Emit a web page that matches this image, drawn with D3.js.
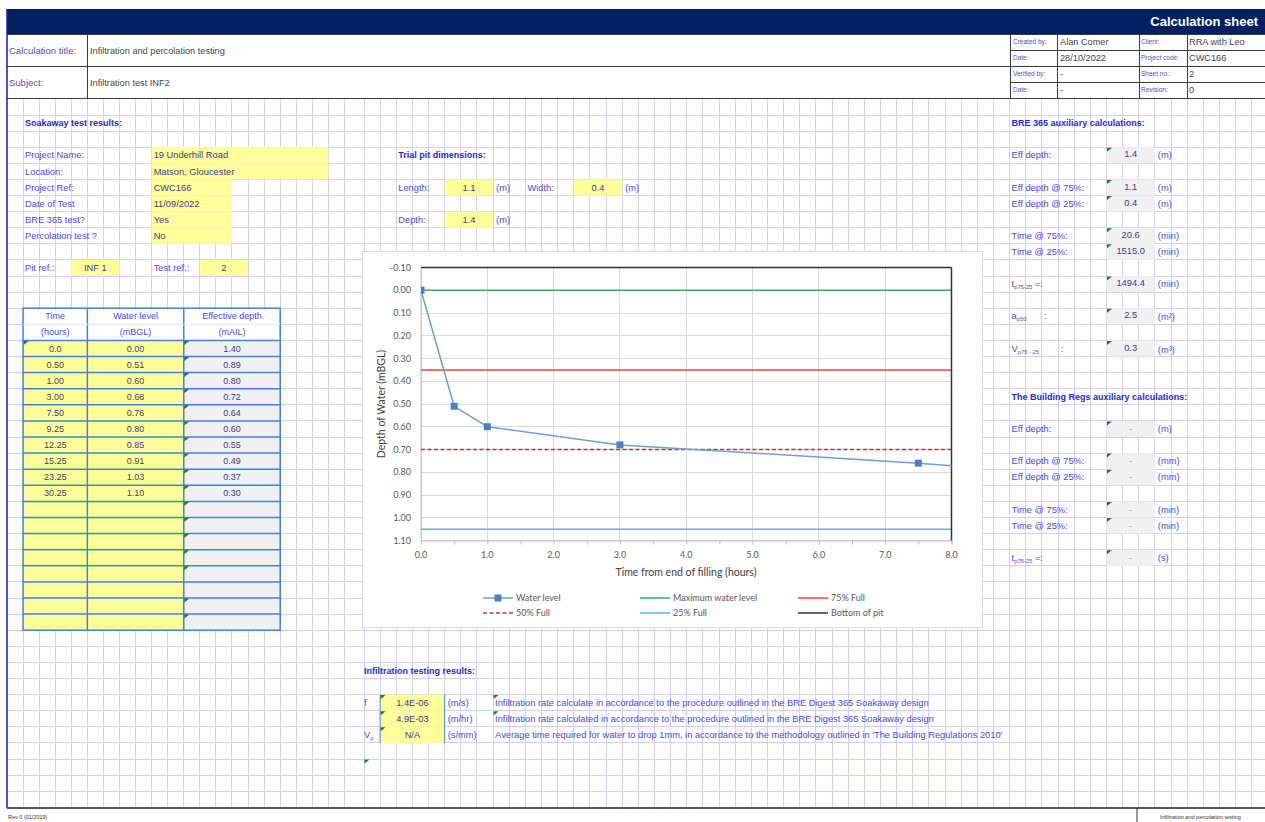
<!DOCTYPE html>
<html>
<head>
<meta charset="utf-8">
<script src="https://d3js.org/d3.v7.min.js"></script>
<style>
  body { margin: 0; background: #fff; }
  svg text { font-family: "Liberation Sans", Arial, sans-serif; }
</style>
</head>
<body>
<div id="sheet"></div>
<script>
// ---- data ----
const timeHours  = [0.0, 0.50, 1.00, 3.00, 7.50, 9.25, 12.25, 15.25, 23.25, 30.25];
const waterLevel = [0.00, 0.51, 0.60, 0.68, 0.76, 0.80, 0.85, 0.91, 1.03, 1.10];
const effDepth   = [1.40, 0.89, 0.80, 0.72, 0.64, 0.60, 0.55, 0.49, 0.37, 0.30];

// reference levels drawn as horizontal lines (mBGL)
const refNames  = ["Maximum water level", "75% Full", "50% Full", "25% Full"];
const refLevels = [0.00, 0.35, 0.70, 1.05];
const refColors = ["#35b35e", "#ff3b3b", "#b33a3a", "#5fb6d3"];

const yTickValues = [-0.10, 0.00, 0.10, 0.20, 0.30, 0.40, 0.50, 0.60, 0.70, 0.80, 0.90, 1.00, 1.10];
const xTickValues = [0, 1, 2, 3, 4, 5, 6, 7, 8];

const projLabels = ["Project Name:", "Location:", "Project Ref:", "Date of Test", "BRE 365 test?", "Percolation test ?"];
const projValues = ["19 Underhill Road", "Matson, Gloucester", "CWC166", "11/09/2022", "Yes", "No"];

const breValues = ["1.4", "1.1", "0.4", "20.6", "1515.0", "1494.4", "2.5", "0.3"];
const regsValues = ["-", "-", "-", "-", "-", "-"];

const resultValues = ["1.4E-06", "4.9E-03", "N/A"];
const resultUnits  = ["(m/s)", "(m/hr)", "(s/mm)"];
const resultNotes  = [
  "Infiltration rate calculate in accordance to the procedure outlined in the BRE Digest 365 Soakaway design",
  "Infiltration rate calculated in accordance to the procedure outlined in the BRE Digest 365 Soakaway design",
  "Average time required for water to drop 1mm, in accordance to the methodology outlined in 'The Building Regulations 2010'"
];

// ---- colours / sizes ----
const navy = "#002060", gridCol = "#cfcff7", labelCol = "#4a48dc", valueCol = "#3d3a8c",
      headCol = "#2a28d2", yellow = "#ffff99", grey = "#f0f0f0", tblBlue = "#3f83dc", tri = "#1f7a1f";
const fs = 9.3, fsHead = 9, fsTbl = 9;

const svg = d3.select("#sheet").append("svg").attr("width", 1265).attr("height", 822);

// spreadsheet grid helpers
const col = k => k <= 21 ? 7 + 16.07 * k : 364 + 16.14 * (k - 22);
const row = r => r < 0 ? 98 : 115 + 16.1 * r;

// grid
const g = svg.append("g").attr("shape-rendering", "crispEdges");
d3.range(1, 79).forEach(k => {
  if (col(k) < 1265) g.append("line").attr("x1", col(k)).attr("x2", col(k)).attr("y1", 98).attr("y2", 808)
    .attr("stroke", gridCol);
});
d3.range(0, 44).forEach(r => {
  g.append("line").attr("x1", 7).attr("x2", 1265).attr("y1", row(r)).attr("y2", row(r)).attr("stroke", gridCol);
});

function cell(c0, c1, r0, r1, fill) {
  return svg.append("rect").attr("x", col(c0)).attr("y", row(r0))
    .attr("width", col(c1) - col(c0)).attr("height", row(r1) - row(r0)).attr("fill", fill);
}
function txt(x, y, s, size, fill, anchor, weight) {
  return svg.append("text").attr("x", x).attr("y", y).attr("dy", "0.35em")
    .attr("font-size", size).attr("fill", fill).attr("text-anchor", anchor || "start")
    .attr("font-weight", weight || "normal").text(s);
}
function mark(c, r) {
  const x = col(c) + 0.5, y = row(r) + 0.5;
  svg.append("path").attr("d", `M${x},${y}L${x + 5},${y}L${x},${y + 4}Z`).attr("fill", tri);
}
const mid = r => row(r) + 8;

// ---- header ----
svg.append("rect").attr("x", 7).attr("y", 9).attr("width", 1258).attr("height", 25).attr("fill", navy);
txt(1258, 21, "Calculation sheet", 13, "#fff", "end", "bold");
const hl = svg.append("g").attr("stroke", "#3a3a3a").attr("shape-rendering", "crispEdges");
[34, 66, 98].forEach(y => hl.append("line").attr("x1", 7).attr("x2", 1265).attr("y1", y).attr("y2", y));
[50, 82].forEach(y => hl.append("line").attr("x1", 1010).attr("x2", 1265).attr("y1", y).attr("y2", y));
[87].forEach(x => hl.append("line").attr("x1", x).attr("x2", x).attr("y1", 34).attr("y2", 98));
[1010, 1057, 1139, 1187].forEach(x => hl.append("line").attr("x1", x).attr("x2", x).attr("y1", 34).attr("y2", 98));
txt(9, 51, "Calculation title:", 9.5, "#5a4fa8");
txt(90, 51, "Infiltration and percolation testing", 9.2, "#444");
txt(9, 83, "Subject:", 9.5, "#5a4fa8");
txt(90, 83, "Infiltration test INF2", 9.2, "#444");
const metaL = ["Created by:", "Date:", "Verified by:", "Date:"], metaV = ["Alan Comer", "28/10/2022", "-", "-"];
const metaL2 = ["Client:", "Project code:", "Sheet no.:", "Revision:"], metaV2 = ["RRA with Leo", "CWC166", "2", "0"];
metaL.forEach((s, i) => {
  txt(1013, 42 + 16 * i, s, 6.5, "#5a4fa8");
  txt(1060, 42 + 16 * i, metaV[i], 9.2, "#444");
  txt(1141, 42 + 16 * i, metaL2[i], 6.5, "#5a4fa8");
  txt(1189, 42 + 16 * i, metaV2[i], 9.2, "#444");
});
svg.append("line").attr("x1", 7).attr("x2", 7).attr("y1", 9).attr("y2", 808).attr("stroke", "#1a1aa8").attr("stroke-width", 1.5);

// ---- soakaway test results ----
txt(col(1) + 2, mid(0), "Soakaway test results:", fsHead, headCol, "start", "bold");
projLabels.forEach((s, i) => {
  cell(9, i < 2 ? 20 : 14, 2 + i, 3 + i, yellow);
  txt(col(1) + 2, mid(2 + i), s, fs, labelCol);
  txt(col(9) + 2, mid(2 + i), projValues[i], fs, valueCol);
});
cell(4, 7, 9, 10, yellow); cell(12, 15, 9, 10, yellow);
txt(col(1) + 2, mid(9), "Pit ref.:", fs, labelCol);
txt((col(4) + col(7)) / 2, mid(9), "INF 1", fs, valueCol, "middle");
txt(col(9) + 2, mid(9), "Test ref.:", fs, labelCol);
txt((col(12) + col(15)) / 2, mid(9), "2", fs, valueCol, "middle");

// ---- data table ----
const tcols = [1, 5, 11, 17];
cell(1, 17, 12, 14, "#fff");
for (let i = 0; i < 18; i++) {
  cell(1, 11, 14 + i, 15 + i, yellow);
  cell(11, 17, 14 + i, 15 + i, grey);
}
const tl = svg.append("g").attr("stroke", tblBlue).attr("stroke-width", 1.5).attr("fill", "none");
tl.append("rect").attr("x", col(1)).attr("y", row(12)).attr("width", col(17) - col(1)).attr("height", row(32) - row(12));
tcols.slice(1, 3).forEach(c => tl.append("line").attr("x1", col(c)).attr("x2", col(c)).attr("y1", row(12)).attr("y2", row(32)));
d3.range(14, 32).forEach(r => tl.append("line").attr("x1", col(1)).attr("x2", col(17)).attr("y1", row(r)).attr("y2", row(r)));
svg.append("line").attr("x1", col(1)).attr("x2", col(17)).attr("y1", row(13)).attr("y2", row(13)).attr("stroke", "#e6e6e6");
const heads = [["Time", "(hours)"], ["Water level", "(mBGL)"], ["Effective depth", "(mAIL)"]];
heads.forEach((h, j) => {
  const cx = (col(tcols[j]) + col(tcols[j + 1])) / 2;
  txt(cx, mid(12), h[0], fsTbl, labelCol, "middle");
  txt(cx, mid(13), h[1], fsTbl, labelCol, "middle");
});
timeHours.forEach((t, i) => {
  txt((col(1) + col(5)) / 2, mid(14 + i), i === 0 ? t.toFixed(1) : t.toFixed(2), fsTbl, valueCol, "middle");
  txt((col(5) + col(11)) / 2, mid(14 + i), waterLevel[i].toFixed(2), fsTbl, valueCol, "middle");
  txt((col(11) + col(17)) / 2, mid(14 + i), effDepth[i].toFixed(2), fsTbl, valueCol, "middle");
});
mark(1, 14);
d3.range(14, 32).forEach(r => { if (r !== 29) mark(11, r); });

// ---- trial pit dimensions ----
txt(col(24) + 2, mid(2), "Trial pit dimensions:", fsHead, headCol, "start", "bold");
cell(27, 30, 4, 5, yellow); cell(35, 38, 4, 5, yellow); cell(27, 30, 6, 7, yellow);
txt(col(24) + 2, mid(4), "Length:", fs, labelCol);
txt((col(27) + col(30)) / 2, mid(4), "1.1", fs, valueCol, "middle");
txt(col(30) + 3, mid(4), "(m)", fs, labelCol);
txt(col(32) + 2, mid(4), "Width:", fs, labelCol);
txt((col(35) + col(38)) / 2, mid(4), "0.4", fs, valueCol, "middle");
txt(col(38) + 3, mid(4), "(m)", fs, labelCol);
txt(col(24) + 2, mid(6), "Depth:", fs, labelCol);
txt((col(27) + col(30)) / 2, mid(6), "1.4", fs, valueCol, "middle");
txt(col(30) + 3, mid(6), "(m)", fs, labelCol);

// ---- BRE 365 auxiliary ----
txt(col(62) + 2, mid(0), "BRE 365 auxiliary calculations:", fsHead, headCol, "start", "bold");
const breRows = [2, 4, 5, 7, 8, 10, 12, 14];
const breUnits = ["(m)", "(m)", "(m)", "(min)", "(min)", "(min)", "(m\u00b2)", "(m\u00b3)"];
const breLabels = ["Eff depth:", "Eff depth @ 75%:", "Eff depth @ 25%:", "Time @ 75%:", "Time @ 25%:"];
breRows.forEach((r, i) => {
  cell(68, 71, r, r + 1, grey); mark(68, r);
  txt((col(68) + col(71)) / 2, mid(r) - 1, breValues[i], fs, valueCol, "middle");
  txt(col(71) + 3, mid(r) + (i > 5 ? 1 : 0), breUnits[i], fs, labelCol);
  if (i < 5) txt(col(62) + 2, mid(r), breLabels[i], fs, labelCol);
});
function subLabel(x, y, main, sub, tail) {
  const t = svg.append("text").attr("x", x).attr("y", y).attr("dy", "0.35em").attr("font-size", fs).attr("fill", labelCol);
  t.append("tspan").text(main);
  t.append("tspan").attr("font-size", 5.8).attr("dy", 2).text(sub);
  if (tail) t.append("tspan").attr("dy", -2).text(tail);
}
subLabel(col(62) + 2, mid(10), "t", "p75-25", " =:");
subLabel(col(62) + 2, mid(12), "a", "p50");
txt(1044, mid(12), ":", fs, labelCol);
subLabel(col(62) + 2, mid(14), "V", "p75 - 25");
txt(1061, mid(14), ":", fs, labelCol);

// ---- Building Regs auxiliary ----
txt(col(62) + 2, mid(17), "The Building Regs auxiliary calculations:", fsHead, headCol, "start", "bold");
const regRows = [19, 21, 22, 24, 25, 27];
const regUnits = ["(m)", "(mm)", "(mm)", "(min)", "(min)", "(s)"];
regRows.forEach((r, i) => {
  cell(68, 71, r, r + 1, grey); mark(68, r);
  txt((col(68) + col(71)) / 2, mid(r), regsValues[i], fs, "#9a9ab0", "middle");
  txt(col(71) + 3, mid(r), regUnits[i], fs, labelCol);
  if (i < 5) txt(col(62) + 2, mid(r), breLabels[i], fs, labelCol);
});
subLabel(col(62) + 2, mid(27), "t", "p75-25", " =:");

// ---- infiltration results ----
txt(col(22), mid(34), "Infiltration testing results:", fsHead, headCol, "start", "bold");
resultValues.forEach((v, i) => {
  const r = 36 + i;
  cell(23, 27, r, r + 1, yellow);
  svg.append("line").attr("x1", col(23)).attr("x2", col(23)).attr("y1", row(r)).attr("y2", row(r + 1)).attr("stroke", tblBlue);
  svg.append("line").attr("x1", col(27)).attr("x2", col(27)).attr("y1", row(r)).attr("y2", row(r + 1)).attr("stroke", tblBlue);
  mark(23, r);
  txt((col(23) + col(27)) / 2, mid(r), v, fs, valueCol, "middle");
  txt(col(27) + 3, mid(r), resultUnits[i], fs, labelCol);
  txt(col(30) + 2, mid(r), resultNotes[i], fs, labelCol);
  if (i < 2) mark(30, r);
});
txt(col(22), mid(36), "f", fs, labelCol);
subLabel(col(22), mid(38), "V", "p");
mark(22, 40);

// ---- footer ----
svg.append("line").attr("x1", 7).attr("x2", 1265).attr("y1", 808).attr("y2", 808).attr("stroke", "#555").attr("stroke-width", 2);
svg.append("rect").attr("x", 0).attr("y", 809).attr("width", 1265).attr("height", 13).attr("fill", "#fff");
svg.append("line").attr("x1", 1137).attr("x2", 1137).attr("y1", 808).attr("y2", 822).attr("stroke", "#333");
txt(8, 817, "Rev 0 (01/2019)", 5.5, "#333");
txt(1160, 817, "Infiltration and percolation testing", 5.5, "#333");

// ---- chart ----
svg.append("rect").attr("x", 362.5).attr("y", 251.5).attr("width", 620).attr("height", 376)
  .attr("fill", "#fff").attr("stroke", "#d9d9d9");
const chartFont = 'Lato, "Open Sans", sans-serif';
const x = d3.scaleLinear().domain([0, 8]).range([421, 951.5]);
const y = d3.scaleLinear().domain([-0.1, 1.1]).range([267.5, 540.5]);
const ch = svg.append("g");
ch.append("clipPath").attr("id", "plot").append("rect")
  .attr("x", x(0)).attr("y", y(-0.1) - 5).attr("width", x(8) - x(0)).attr("height", y(1.1) - y(-0.1) + 10);

ch.append("g").selectAll("line").data(yTickValues).join("line")
  .attr("x1", x(0)).attr("x2", x(8)).attr("y1", d => y(d)).attr("y2", d => y(d))
  .attr("stroke", "#d9d9d9").attr("shape-rendering", "crispEdges");
ch.append("g").selectAll("line").data(xTickValues).join("line")
  .attr("x1", d => x(d)).attr("x2", d => x(d)).attr("y1", y(-0.1)).attr("y2", y(1.1))
  .attr("stroke", "#d9d9d9").attr("shape-rendering", "crispEdges");

// axes
const xAxis = ch.append("g").attr("transform", `translate(0,${y(1.1)})`)
  .call(d3.axisBottom(x).tickValues(d3.range(0, 8.01, 0.5)).tickSize(4).tickFormat(""));
xAxis.select(".domain").attr("stroke", "#bfbfbf");
xAxis.selectAll(".tick line").attr("stroke", "#bfbfbf");
ch.append("line").attr("x1", x(0)).attr("x2", x(0)).attr("y1", y(-0.1)).attr("y2", y(1.1)).attr("stroke", "#bfbfbf");

ch.append("g").selectAll("text").data(yTickValues).join("text")
  .attr("x", 411).attr("y", d => y(d)).attr("dy", "0.35em").attr("text-anchor", "end")
  .attr("font-size", 9).attr("fill", "#595959").style("font-family", chartFont)
  .text(d => d.toFixed(2));
ch.append("g").selectAll("text").data(xTickValues).join("text")
  .attr("x", d => x(d)).attr("y", 555).attr("dy", "0.35em").attr("text-anchor", "middle")
  .attr("font-size", 9).attr("fill", "#595959").style("font-family", chartFont)
  .text(d => d.toFixed(1));

ch.append("text").attr("x", 686).attr("y", 572).attr("dy", "0.35em").attr("text-anchor", "middle")
  .attr("font-size", 10.5).attr("fill", "#404040").style("font-family", chartFont)
  .text("Time from end of filling (hours)");
ch.append("text").attr("transform", `translate(381,${(y(-0.1) + y(1.1)) / 2}) rotate(-90)`)
  .attr("dy", "0.35em").attr("text-anchor", "middle")
  .attr("font-size", 10.5).attr("fill", "#404040").style("font-family", chartFont)
  .text("Depth of Water (mBGL)");

// reference lines
refLevels.forEach((v, i) => {
  ch.append("line").attr("x1", x(0)).attr("x2", x(8)).attr("y1", y(v)).attr("y2", y(v))
    .attr("stroke", refColors[i]).attr("stroke-width", 1.5)
    .attr("stroke-dasharray", i === 2 ? "4,2.5" : null);
});
// bottom of pit / frame
ch.append("line").attr("x1", x(0)).attr("x2", x(8)).attr("y1", y(-0.1)).attr("y2", y(-0.1)).attr("stroke", "#333").attr("stroke-width", 1.5);
ch.append("line").attr("x1", x(8)).attr("x2", x(8)).attr("y1", y(-0.1)).attr("y2", y(1.1)).attr("stroke", "#333").attr("stroke-width", 1.5);

// water level series
const pts = timeHours.map((t, i) => [t, waterLevel[i]]);
const clipped = ch.append("g").attr("clip-path", "url(#plot)");
clipped.append("path").datum(pts)
  .attr("fill", "none").attr("stroke", "#6f9fd8").attr("stroke-width", 1.5)
  .attr("d", d3.line().x(d => x(d[0])).y(d => y(d[1])));
clipped.selectAll("rect.pt").data(pts.filter(d => d[0] <= 8)).join("rect").attr("class", "pt")
  .attr("x", d => x(d[0]) - 3.5).attr("y", d => y(d[1]) - 3.5).attr("width", 7).attr("height", 7)
  .attr("fill", "#4a7fc1");

// legend
const legend = [
  { name: "Water level", color: "#6f9fd8", x: 483, y: 598, marker: true },
  { name: "Maximum water level", color: refColors[0], x: 640, y: 598 },
  { name: "75% Full", color: refColors[1], x: 798, y: 598 },
  { name: "50% Full", color: refColors[2], x: 483, y: 613, dash: "4,2.5" },
  { name: "25% Full", color: refColors[3], x: 640, y: 613 },
  { name: "Bottom of pit", color: "#333", x: 798, y: 613 }
];
legend.forEach(l => {
  ch.append("line").attr("x1", l.x).attr("x2", l.x + 30).attr("y1", l.y).attr("y2", l.y)
    .attr("stroke", l.color).attr("stroke-width", 1.5).attr("stroke-dasharray", l.dash || null);
  if (l.marker) ch.append("rect").attr("x", l.x + 11.5).attr("y", l.y - 3.5).attr("width", 7).attr("height", 7).attr("fill", "#4a7fc1");
  ch.append("text").attr("x", l.x + 33).attr("y", l.y).attr("dy", "0.35em")
    .attr("font-size", 9).attr("fill", "#595959").style("font-family", chartFont).text(l.name);
});
</script>
</body>
</html>
